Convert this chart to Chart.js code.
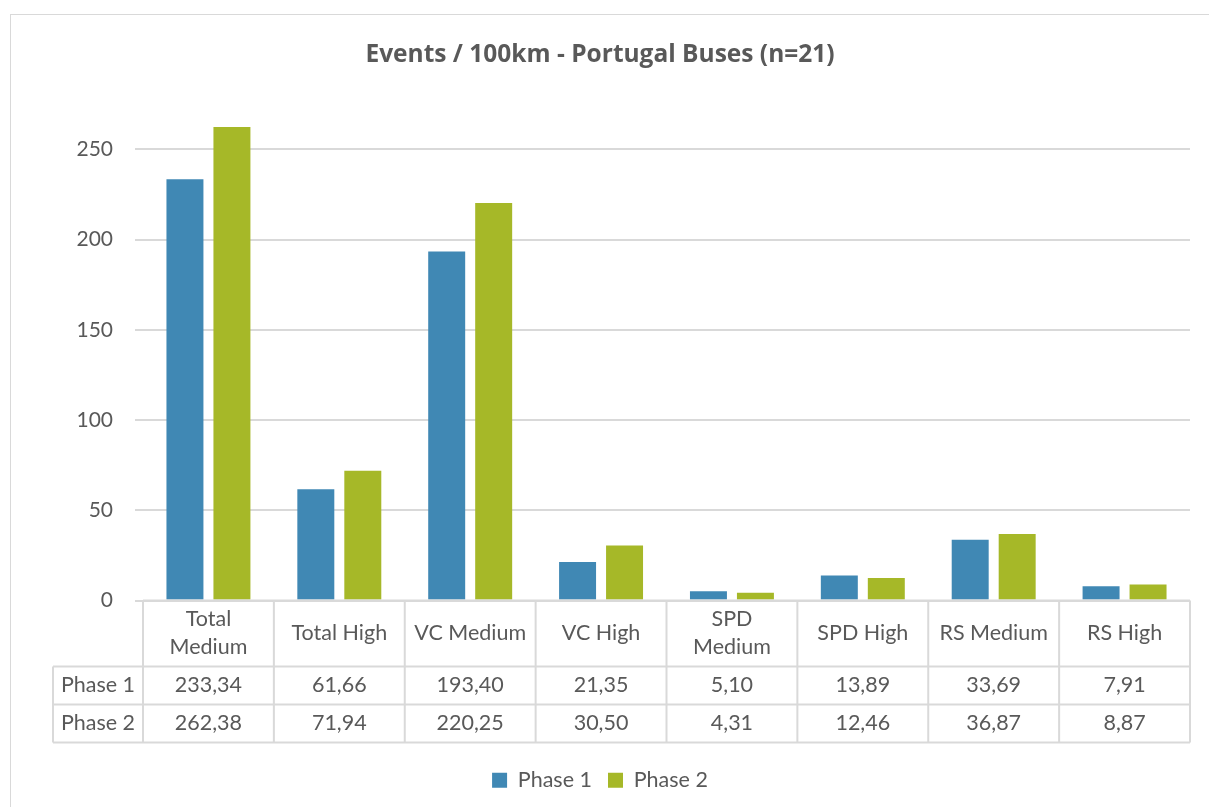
<!DOCTYPE html>
<html>
<head>
<meta charset="utf-8">
<script src="https://cdn.jsdelivr.net/npm/chart.js@4"></script>
<style>
  html, body { margin: 0; padding: 0; background: #fff; }
  #wrap { width: 1209px; height: 807px; }
</style>
</head>
<body>
<div id="wrap"><canvas id="chart" width="1209" height="807"></canvas></div>
<script>
const categories = ['Total Medium', 'Total High', 'VC Medium', 'VC High', 'SPD Medium', 'SPD High', 'RS Medium', 'RS High'];
const categoryLines = [['Total', 'Medium'], ['Total High'], ['VC Medium'], ['VC High'], ['SPD', 'Medium'], ['SPD High'], ['RS Medium'], ['RS High']];
const phase1 = [233.34, 61.66, 193.40, 21.35, 5.10, 13.89, 33.69, 7.91];
const phase2 = [262.38, 71.94, 220.25, 30.50, 4.31, 12.46, 36.87, 8.87];
const yTicks = [0, 50, 100, 150, 200, 250];

const textColor = '#595959';
const lineColor = '#d9d9d9';
const fontFamily = 'Lato, "Open Sans", sans-serif';

// Excel-style number: comma decimal separator
function fmt(v) {
    return v.toFixed(2).replace('.', ',');
}

// Draws the outer frame and the data table below the plot
const dataTablePlugin = {
    id: 'dataTable',
    beforeDraw(chart) {
        const ctx = chart.ctx;
        ctx.save();
        ctx.strokeStyle = lineColor;
        ctx.lineWidth = 1;
        ctx.strokeRect(10.5, 14.5, 1210, 820);
        ctx.restore();
    },
    afterDraw(chart) {
        const ctx = chart.ctx;
        const area = chart.chartArea;
        const x = chart.scales.x;
        const top = area.bottom;
        const rowHead = 66, rowH = 38;
        const left = 53;
        const y1 = top + rowHead, y2 = y1 + rowH, y3 = y2 + rowH;
        const step = (area.right - area.left) / categories.length;

        ctx.save();
        ctx.strokeStyle = lineColor;
        ctx.lineWidth = 2;
        ctx.beginPath();
        // horizontal lines
        ctx.moveTo(area.left, top); ctx.lineTo(area.right, top);
        [y1, y2, y3].forEach(y => { ctx.moveTo(left, y); ctx.lineTo(area.right, y); });
        // vertical lines
        for (let i = 0; i <= categories.length; i++) {
            const vx = area.left + i * step;
            ctx.moveTo(vx, top); ctx.lineTo(vx, y3);
        }
        ctx.moveTo(left, y1); ctx.lineTo(left, y3);
        ctx.stroke();

        ctx.fillStyle = textColor;
        ctx.font = '21.5px ' + fontFamily;
        ctx.textAlign = 'center';
        ctx.textBaseline = 'middle';
        categories.forEach((c, i) => {
            const cx = x.getPixelForValue(i);
            const lines = categoryLines[i];
            const mid = top + rowHead / 2;
            lines.forEach((ln, j) => {
                ctx.fillText(ln, cx, mid + (j - (lines.length - 1) / 2) * 28);
            });
            ctx.fillText(fmt(phase1[i]), cx, y1 + rowH / 2);
            ctx.fillText(fmt(phase2[i]), cx, y2 + rowH / 2);
        });
        ctx.fillText('Phase 1', (left + area.left) / 2, y1 + rowH / 2);
        ctx.fillText('Phase 2', (left + area.left) / 2, y2 + rowH / 2);
        ctx.restore();
    }
};

const ctx = document.getElementById('chart').getContext('2d');
window.myChart = new Chart(ctx, {
    type: 'bar',
    data: {
        labels: categories,
        datasets: [
            {
                label: 'Phase 1',
                data: phase1,
                backgroundColor: '#4088b4',
                categoryPercentage: 0.718,
                barPercentage: 0.787
            },
            {
                label: 'Phase 2',
                data: phase2,
                backgroundColor: '#a6b828',
                categoryPercentage: 0.718,
                barPercentage: 0.787
            }
        ]
    },
    options: {
        responsive: false,
        animation: false,
        layout: { padding: { top: 20, left: 10, right: 19, bottom: 6 } },
        plugins: {
            title: {
                display: true,
                text: 'Events / 100km - Portugal Buses (n=21)',
                color: textColor,
                font: { family: '"Open Sans", Lato, sans-serif', size: 24.5, weight: 'bold' },
                padding: { top: 20, bottom: 51 }
            },
            legend: {
                position: 'bottom',
                labels: {
                    color: textColor,
                    font: { family: fontFamily, size: 21.5 },
                    boxWidth: 15,
                    boxHeight: 15,
                    padding: 16
                }
            },
            tooltip: { enabled: false }
        },
        scales: {
            x: {
                grid: { display: false },
                border: { display: false },
                ticks: { display: false },
                afterFit(scale) { scale.height = 153; }
            },
            y: {
                min: 0,
                max: 266,
                border: { display: false },
                grid: { color: lineColor, lineWidth: 2 },
                afterBuildTicks(scale) { scale.ticks = yTicks.map(v => ({ value: v })); },
                afterFit(scale) { scale.width = 133; },
                ticks: {
                    color: textColor,
                    font: { family: fontFamily, size: 21 },
                    padding: 22
                }
            }
        }
    },
    plugins: [dataTablePlugin]
});
</script>
</body>
</html>
